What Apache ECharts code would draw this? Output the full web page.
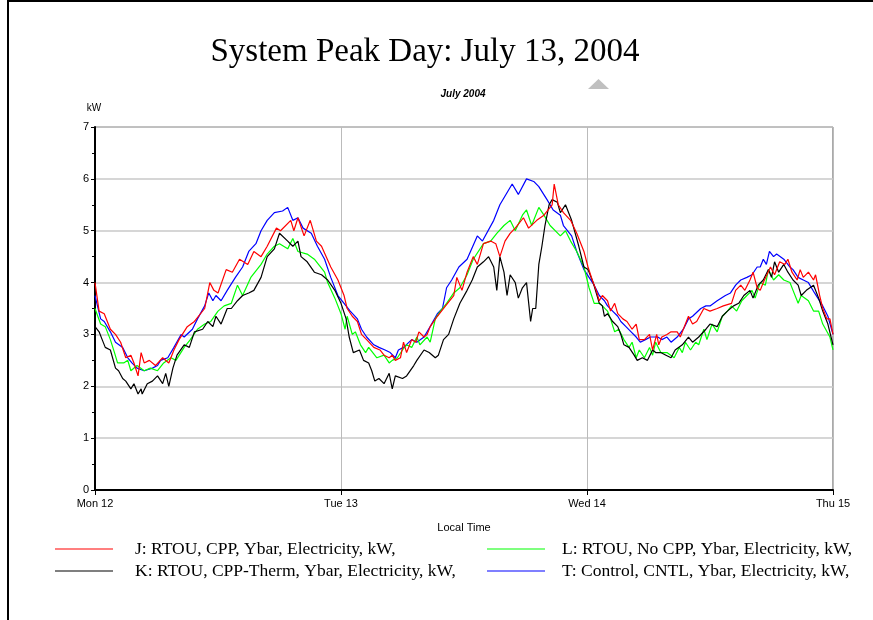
<!DOCTYPE html>
<html><head><meta charset="utf-8">
<script src="https://cdn.jsdelivr.net/npm/echarts@6/dist/echarts.min.js"></script>
<style>html,body{margin:0;padding:0;background:#fff}#c{width:873px;height:620px}</style>
</head><body><div id="c"></div>
<script>
// time positions in hours since Mon 12 00:00, values in kW
const tickLabels = ['Mon 12','Tue 13','Wed 14','Thu 15'];
const seriesNames = [
  'J: RTOU, CPP, Ybar, Electricity, kW,',
  'K: RTOU, CPP-Therm, Ybar, Electricity, kW,',
  'L: RTOU, No CPP, Ybar, Electricity, kW,',
  'T: Control, CNTL, Ybar, Electricity, kW,'
];
const hJ = [0,0.4,0.9,1.5,2.0,2.5,3.0,3.5,3.8,4.2,4.5,4.8,5.3,5.9,6.6,7.2,7.7,8.2,9.0,9.7,10.7,11.2,11.6,12.0,12.8,13.4,14.1,14.9,15.5,16.2,16.8,17.7,18.1,19.1,19.4,19.8,20.4,21.0,21.6,22.1,23.0,23.7,
  24.3,24.6,25.1,25.6,26.0,26.5,27.2,27.8,28.2,28.7,29.0,29.3,29.8,30.1,30.4,30.9,31.3,31.6,32.1,32.4,32.7,33.4,34.2,35.0,35.3,35.8,36.3,36.9,37.3,37.9,38.6,39.1,39.5,40.0,40.5,41.0,41.8,42.3,43.1,43.8,44.6,44.8,45.2,45.7,46.4,47.0,47.7,
  48.1,48.6,48.9,49.2,49.5,50.0,50.3,50.7,51.0,51.5,51.9,52.4,52.8,53.1,53.6,54.1,54.4,54.8,55.0,55.3,55.8,56.2,56.8,57.1,57.9,58.3,58.7,59.4,60.0,60.7,61.3,62.1,62.5,63.0,63.4,63.9,64.2,64.6,64.9,65.2,65.9,66.3,66.8,67.3,67.6,68.0,68.5,68.8,69.1,69.6,70.1,70.3,70.7,71.0,71.4,71.7,72.0];
const vJ = [4.0,3.45,3.4,3.1,3.0,2.85,2.55,2.6,2.45,2.2,2.65,2.45,2.5,2.4,2.55,2.45,2.7,2.9,3.15,3.25,3.5,4.0,3.85,3.8,4.25,4.2,4.45,4.35,4.6,4.5,4.7,5.05,5.0,5.2,5.0,5.25,4.9,5.2,4.8,4.7,4.3,4.05,
  3.75,3.5,3.35,3.25,3.0,2.9,2.75,2.7,2.6,2.55,2.6,2.5,2.55,2.85,2.65,2.9,2.85,3.05,2.95,3.0,3.15,3.35,3.55,3.75,4.1,3.85,4.2,4.5,4.35,4.75,4.8,4.75,4.5,4.8,4.95,5.05,5.25,5.05,5.2,5.3,5.5,5.9,5.5,5.35,5.2,4.95,4.6,
  4.3,4.0,3.85,3.65,3.75,3.65,3.45,3.6,3.4,3.3,3.25,3.1,3.2,2.9,2.9,3.0,2.7,3.0,2.8,2.95,3.0,3.05,3.05,2.95,3.35,3.2,3.25,3.5,3.45,3.5,3.55,3.6,3.85,3.95,3.85,4.05,4.2,3.9,3.85,4.0,4.3,4.15,4.4,4.35,4.45,4.2,4.05,4.25,4.1,4.2,4.05,4.15,3.75,3.5,3.3,3.3,3.0];

const hK = [0,0.4,0.7,1.0,1.5,2.0,2.3,2.7,3.0,3.5,3.8,4.2,4.5,4.6,5.1,5.6,6.1,6.6,6.9,7.2,7.6,8.0,8.7,9.2,9.7,10.5,11.0,11.5,11.8,12.3,12.9,13.3,13.9,14.4,15.0,15.5,16.2,16.8,17.5,18.0,18.8,19.3,19.8,20.1,20.7,21.4,22.1,22.7,23.4,24.0,
  24.5,24.8,25.2,25.8,26.2,26.7,27.0,27.3,27.7,28.2,28.7,29.0,29.3,30.0,30.4,31.1,31.4,32.1,32.6,33.2,33.5,34.0,34.5,35.0,35.6,36.3,36.8,37.3,37.9,38.4,38.9,39.2,39.5,39.9,40.2,40.5,41.0,41.3,41.7,42.1,42.5,42.7,43.0,43.3,43.6,43.9,44.3,44.6,45.1,45.4,45.9,46.5,47.2,47.7,
  48.1,48.6,48.9,49.2,49.5,49.7,50.0,50.5,51.0,51.3,51.6,52.1,52.6,52.9,53.4,53.9,54.4,54.7,55.2,55.7,56.2,56.6,57.3,57.9,58.3,58.9,59.6,60.0,60.7,61.2,61.7,62.3,62.8,63.3,63.9,64.2,64.7,65.2,65.7,66.0,66.3,66.7,67.2,67.6,68.1,68.6,68.9,69.4,70.1,70.6,71.0,71.5,72.0];
const vK = [3.15,3.05,2.9,2.75,2.7,2.35,2.3,2.15,2.1,1.95,2.05,1.85,1.95,1.85,2.05,2.1,2.2,2.05,2.25,2.0,2.35,2.6,2.8,2.75,3.05,3.1,3.25,3.15,3.35,3.2,3.5,3.5,3.65,3.75,3.8,3.85,4.1,4.5,4.65,4.95,4.8,4.7,4.8,4.5,4.4,4.2,4.15,4.05,3.85,3.6,
  3.3,2.95,2.65,2.7,2.5,2.45,2.3,2.1,2.15,2.05,2.25,1.95,2.2,2.15,2.2,2.4,2.5,2.7,2.65,2.55,2.6,2.9,3.0,3.3,3.6,3.85,4.05,4.3,4.4,4.5,4.3,3.85,4.5,4.2,3.75,4.15,4.0,3.7,3.9,4.0,3.25,3.5,3.5,4.35,4.7,5.1,5.5,5.6,5.55,5.35,5.5,5.2,4.7,4.3,
  4.25,4.0,3.8,3.6,3.55,3.35,3.4,3.25,3.15,3.0,2.8,2.75,2.6,2.5,2.55,2.5,2.7,2.65,2.65,2.6,2.55,2.7,2.8,2.95,2.85,2.95,3.1,3.2,3.15,3.35,3.45,3.55,3.6,3.75,3.85,3.7,3.95,4.05,4.25,4.1,4.4,4.2,4.35,4.2,4.05,3.95,3.75,3.85,3.95,3.7,3.45,3.2,2.8];

const hL = [0,0.55,1.0,1.5,1.9,2.2,2.8,3.2,3.5,4.1,4.8,5.4,6.1,6.7,7.4,7.9,8.7,9.3,10.0,10.7,11.3,12.0,12.6,13.3,13.9,14.4,15.2,16.2,16.8,17.5,18.0,18.8,19.3,19.8,20.7,21.4,22.4,22.7,23.4,24.0,
  24.4,24.6,25.1,25.4,25.9,26.4,26.7,27.5,28.2,28.7,29.0,29.5,30.0,30.4,30.9,31.4,31.7,32.4,32.7,33.2,33.7,34.3,35.0,35.6,36.3,36.9,37.9,38.6,39.2,39.9,40.5,41.0,41.7,42.1,42.6,43.3,43.8,44.4,45.4,45.9,46.4,47.0,47.7,
  48.2,48.7,49.2,49.5,50.0,50.3,50.7,51.1,51.6,52.1,52.4,52.8,53.1,53.6,54.1,54.4,54.7,55.2,55.8,56.5,57.0,57.3,57.6,58.1,58.6,58.9,59.4,59.7,60.2,60.7,61.2,61.7,62.1,62.6,63.1,63.6,64.1,64.4,64.9,65.4,65.7,66.2,66.7,67.2,67.8,68.1,68.6,68.9,69.6,70.1,70.6,71.0,71.7,72.0];
const vL = [3.5,3.2,3.15,2.9,2.65,2.45,2.45,2.5,2.3,2.4,2.3,2.35,2.3,2.45,2.55,2.5,2.75,2.9,3.1,3.2,3.25,3.45,3.55,3.6,3.95,3.75,4.1,4.35,4.55,4.7,4.75,4.65,4.85,4.6,4.55,4.45,4.2,4.0,3.7,3.4,
  3.1,3.35,3.0,3.05,2.8,2.65,2.75,2.55,2.6,2.45,2.5,2.55,2.7,2.8,2.75,2.95,2.8,2.95,2.85,3.3,3.45,3.6,3.8,3.9,4.15,4.45,4.75,4.8,4.95,5.1,5.2,5.0,5.3,5.4,5.1,5.45,5.3,5.1,4.9,5.0,4.8,4.6,4.3,
  3.9,3.6,3.6,3.55,3.45,3.3,3.05,3.1,2.9,2.75,2.85,2.55,2.7,2.55,2.75,2.6,2.85,2.65,2.65,2.55,2.75,2.65,2.85,2.7,2.85,2.8,3.1,2.9,3.2,3.05,3.35,3.45,3.55,3.45,3.65,3.75,3.85,3.7,4.0,3.95,4.25,4.05,4.15,4.05,4.0,3.85,3.6,3.75,3.65,3.45,3.45,3.2,2.95,2.7];

const hT = [0,0.55,0.9,1.5,2.0,2.7,3.2,3.6,4.1,4.8,5.6,6.1,6.4,7.1,7.7,8.4,8.7,9.5,10.0,10.7,11.1,11.5,11.8,12.3,12.9,13.7,14.4,15.0,15.7,16.2,16.8,17.5,18.3,18.8,19.3,19.8,20.3,21.1,21.7,22.4,23.0,23.7,
  24.3,24.9,25.6,26.0,26.5,27.2,27.7,28.3,28.8,29.3,29.6,30.1,30.9,31.4,32.1,32.7,33.4,33.9,34.3,34.8,35.5,36.3,37.3,37.8,38.9,39.5,40.7,41.3,42.1,42.8,43.3,44.1,44.7,45.4,45.7,46.5,47.0,47.7,
  48.2,48.7,49.2,49.7,50.0,50.5,51.0,51.3,51.8,52.3,52.8,53.2,53.7,54.2,54.9,55.3,55.8,56.2,56.8,57.4,57.9,58.3,59.1,59.6,60.0,60.7,61.5,62.0,62.5,63.0,63.6,64.1,64.6,64.9,65.2,65.5,65.8,66.2,66.5,67.2,67.8,68.1,68.6,69.1,69.6,70.2,71.0,71.5,72.0];
const vT = [3.75,3.3,3.25,3.05,2.85,2.75,2.55,2.45,2.35,2.3,2.35,2.4,2.5,2.55,2.75,3.0,2.95,3.1,3.3,3.55,3.8,3.65,3.75,3.65,3.85,4.1,4.3,4.6,4.75,5.0,5.2,5.35,5.38,5.45,5.2,5.25,5.05,4.95,4.7,4.45,4.1,3.75,
  3.6,3.45,3.3,3.1,2.95,2.8,2.75,2.7,2.65,2.55,2.7,2.75,2.9,2.85,2.95,3.15,3.4,3.5,3.9,4.05,4.3,4.45,4.9,4.8,5.2,5.5,5.9,5.7,6.0,5.95,5.85,5.6,5.4,5.3,5.1,4.9,4.6,4.25,
  4.1,3.95,3.75,3.65,3.55,3.45,3.35,3.25,3.15,3.05,2.95,2.85,2.9,2.95,2.95,2.9,2.95,2.85,2.95,3.1,3.3,3.35,3.5,3.55,3.55,3.65,3.75,3.8,3.95,4.05,4.1,4.15,4.3,4.3,4.45,4.35,4.6,4.5,4.55,4.45,4.3,4.25,4.1,4.05,4.0,3.8,3.55,3.35,3.0];

const colors = ['#ff0000','#000000','#00ff00','#0000ff'];
const pair = (h, v) => h.map((x, i) => [x, v[i]]);
const chart = echarts.init(document.getElementById('c'), null, {renderer:'canvas'});
const mkSeries = (name, h, v, color, z) => ({
  name, type:'line', data: pair(h, v), symbol:'none', showSymbol:false, z,
  lineStyle:{color, width:1.2}, itemStyle:{color}, animation:false
});
const legendText = pad => ({fontFamily:'Liberation Serif', fontSize:17.5, color:'#000', lineHeight:16, padding:[0,0,0,pad]});
const legendIcon = 'path://M0,6 L58,6 L58,7.2 L0,7.2 Z';
chart.setOption({
  animation:false,
  backgroundColor:'#fff',
  grid:{left:95, right:40, top:127, bottom:130, show:true, borderColor:'#555', borderWidth:1},
  xAxis:{type:'value', min:0, max:72, interval:24,
    axisLine:{lineStyle:{color:'#000', width:2}},
    axisTick:{show:true, length:5, lineStyle:{color:'#000'}},
    axisLabel:{fontFamily:'Liberation Sans', fontSize:11, color:'#000', margin:8,
      formatter: v => tickLabels[Math.round(v/24)]},
    splitLine:{show:true, lineStyle:{color:'#bbb', width:1}},
    name:'Local Time', nameLocation:'middle', nameGap:32,
    nameTextStyle:{fontFamily:'Liberation Sans', fontSize:11, color:'#000'}
  },
  yAxis:{type:'value', min:0, max:7, interval:1,
    axisLine:{show:true, lineStyle:{color:'#000', width:2}},
    axisTick:{show:true, length:4, lineStyle:{color:'#000'}},
    minorTick:{show:true, splitNumber:2, length:3, lineStyle:{color:'#000'}},
    axisLabel:{fontFamily:'Liberation Sans', fontSize:11, color:'#000', margin:6},
    splitLine:{show:true, lineStyle:{color:'#c8c8c8', width:1.5}}
  },
  legend:[
    {data:[seriesNames[0], seriesNames[1]], orient:'vertical', left:55, top:540, padding:0, itemWidth:58, itemHeight:14, itemGap:4,
      textStyle:legendText(17), icon:legendIcon, selectedMode:false},
    {data:[seriesNames[2], seriesNames[3]], orient:'vertical', left:487, top:540, padding:0, itemWidth:58, itemHeight:14, itemGap:4,
      textStyle:legendText(12), icon:legendIcon, selectedMode:false}
  ],
  graphic:[
    {type:'line', shape:{x1:8,y1:0,x2:8,y2:620}, style:{stroke:'#000', lineWidth:2}, silent:true},
    {type:'line', shape:{x1:8,y1:1,x2:873,y2:1}, style:{stroke:'#000', lineWidth:2}, silent:true},
    {type:'text', style:{text:'System Peak Day: July 13, 2004', x:425, y:52, align:'center', verticalAlign:'middle',
      font:'33px "Liberation Serif"', fill:'#000'}},
    {type:'polygon', shape:{points:[[588,89],[609,89],[598.5,79]]}, style:{fill:'#c0c0c0'}},
    {type:'text', style:{text:'July 2004', x:463, y:94, align:'center', verticalAlign:'middle',
      font:'italic bold 10px "Liberation Sans"', fill:'#000'}},
    {type:'text', style:{text:'kW', x:94, y:108, align:'center', verticalAlign:'middle',
      font:'10px "Liberation Sans"', fill:'#000'}}
  ],
  series:[
    mkSeries(seriesNames[3], hT, vT, colors[3], 2),
    mkSeries(seriesNames[2], hL, vL, colors[2], 3),
    mkSeries(seriesNames[1], hK, vK, colors[1], 4),
    mkSeries(seriesNames[0], hJ, vJ, colors[0], 5)
  ]
});
</script></body></html>
